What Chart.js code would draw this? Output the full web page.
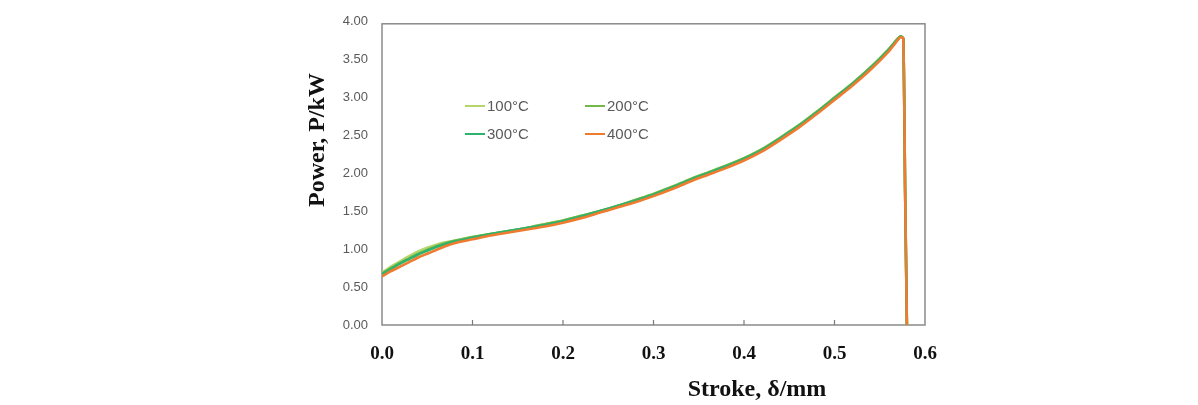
<!DOCTYPE html>
<html>
<head>
<meta charset="utf-8">
<script src="https://cdn.jsdelivr.net/npm/chart.js@4.4.1/dist/chart.umd.min.js"></script>
<style>
  html, body { margin: 0; padding: 0; background: #ffffff; }
  #wrap { width: 1198px; height: 405px; position: relative; }
</style>
</head>
<body>
<div id="wrap"><canvas id="c" width="1198" height="405"></canvas></div>
<script>
// ---- Data ----
const strokeMm = [0, 0.01, 0.02, 0.03, 0.04, 0.05, 0.06, 0.07, 0.08, 0.10, 0.12, 0.14, 0.16, 0.18, 0.20, 0.22, 0.24, 0.26, 0.28, 0.30, 0.32, 0.34, 0.36, 0.38, 0.40, 0.42, 0.44, 0.46, 0.48, 0.50, 0.52, 0.54, 0.56, 0.57, 0.573, 0.576, 0.578, 0.580];
const power100 = [0.69, 0.77, 0.84, 0.91, 0.97, 1.02, 1.06, 1.09, 1.11, 1.16, 1.20, 1.24, 1.28, 1.33, 1.38, 1.44, 1.50, 1.57, 1.65, 1.73, 1.82, 1.92, 2.01, 2.10, 2.20, 2.32, 2.47, 2.63, 2.81, 3.00, 3.19, 3.40, 3.64, 3.78, 3.81, 3.78, 1.80, 0.00];
const power200 = [0.68, 0.75, 0.82, 0.88, 0.94, 0.99, 1.04, 1.08, 1.11, 1.16, 1.20, 1.24, 1.28, 1.33, 1.38, 1.44, 1.50, 1.57, 1.65, 1.73, 1.82, 1.92, 2.01, 2.10, 2.20, 2.32, 2.47, 2.63, 2.81, 3.00, 3.19, 3.40, 3.64, 3.78, 3.81, 3.78, 1.80, 0.00];
const power300 = [0.67, 0.74, 0.81, 0.87, 0.93, 0.98, 1.03, 1.07, 1.10, 1.15, 1.20, 1.24, 1.28, 1.32, 1.37, 1.43, 1.50, 1.57, 1.64, 1.72, 1.81, 1.91, 2.00, 2.09, 2.19, 2.31, 2.46, 2.62, 2.80, 2.99, 3.18, 3.39, 3.63, 3.77, 3.81, 3.78, 1.80, 0.00];
const power400 = [0.64, 0.71, 0.77, 0.83, 0.89, 0.94, 0.99, 1.04, 1.08, 1.13, 1.18, 1.22, 1.26, 1.30, 1.35, 1.41, 1.48, 1.55, 1.62, 1.70, 1.79, 1.89, 1.98, 2.07, 2.17, 2.29, 2.44, 2.60, 2.78, 2.97, 3.16, 3.37, 3.61, 3.76, 3.80, 3.78, 1.80, 0.00];
const seriesLabels = ['100°C', '200°C', '300°C', '400°C'];
const xTickValues = [0, 0.1, 0.2, 0.3, 0.4, 0.5, 0.6];
const yTickValues = [0, 0.5, 1, 1.5, 2, 2.5, 3, 3.5, 4];
const xTitle = 'Stroke, δ/mm';
const yTitle = 'Power, P/kW';

const colors = ['#b6d66c', '#72b94a', '#2eb36c', '#ef7b30'];
const seriesValues = [power100, power200, power300, power400];

function pts(vals) { return strokeMm.map((x, i) => ({ x: x, y: vals[i] })); }

const datasets = seriesValues.map((vals, i) => ({
  label: seriesLabels[i],
  data: pts(vals),
  borderColor: colors[i],
  backgroundColor: colors[i],
  borderWidth: 2.6,
  pointRadius: 0,
  tension: 0.2,
  fill: false,
  order: 4 - i
}));

const PLOT = { left: 382, top: 20, right: 925, bottom: 325 };

const decorPlugin = {
  id: 'decor',
  beforeDatasetsDraw(chart) {
    const ctx = chart.ctx;
    const a = chart.chartArea;
    const xs = chart.scales.x;
    ctx.save();
    ctx.strokeStyle = '#8a8a8a';
    ctx.lineWidth = 1.5;
    ctx.strokeRect(a.left, a.top + 2, a.right - a.left, a.bottom - a.top - 2);
    // inward tick marks on x axis
    ctx.strokeStyle = '#7a7a7a';
    ctx.lineWidth = 1.2;
    xTickValues.forEach(v => {
      if (v === 0 || v === 0.6) return;
      const px = xs.getPixelForValue(v);
      ctx.beginPath();
      ctx.moveTo(px, a.bottom);
      ctx.lineTo(px, a.bottom - 5);
      ctx.stroke();
    });
    ctx.restore();
  },
  afterDraw(chart) {
    const ctx = chart.ctx;
    ctx.save();
    // axis titles
    ctx.fillStyle = '#111111';
    ctx.font = 'bold 24px "Liberation Serif", "Times New Roman", serif';
    ctx.textAlign = 'center';
    ctx.textBaseline = 'middle';
    ctx.fillText(xTitle, 757, 390);
    ctx.translate(318, 140);
    ctx.rotate(-Math.PI / 2);
    ctx.fillText(yTitle, 0, 0);
    ctx.restore();

    // legend inside plot
    ctx.save();
    ctx.font = '15px "Liberation Sans", Arial, sans-serif';
    ctx.textBaseline = 'middle';
    ctx.textAlign = 'left';
    const pos = [[465, 106], [585, 106], [465, 134], [585, 134]];
    chart.data.datasets.forEach((ds, i) => {
      const [x, y] = pos[i];
      ctx.strokeStyle = ds.borderColor;
      ctx.lineWidth = 2;
      ctx.beginPath();
      ctx.moveTo(x, y);
      ctx.lineTo(x + 20, y);
      ctx.stroke();
      ctx.fillStyle = '#5a5a5a';
      ctx.fillText(ds.label, x + 22, y + 1);
    });
    ctx.restore();
  }
};

new Chart(document.getElementById('c'), {
  type: 'line',
  data: { datasets: datasets },
  options: {
    responsive: false,
    animation: false,
    layout: { padding: { left: 0, top: PLOT.top, right: 1198 - PLOT.right, bottom: 0 } },
    plugins: { legend: { display: false }, tooltip: { enabled: false } },
    scales: {
      x: {
        type: 'linear',
        min: 0, max: 0.6,
        afterFit(s) { s.height = 405 - PLOT.bottom; },
        afterBuildTicks(s) { s.ticks = xTickValues.map(v => ({ value: v })); },
        grid: { display: false, drawTicks: false },
        border: { display: false },
        ticks: {
          padding: 18,
          color: '#111111',
          font: { family: '"Liberation Serif", "Times New Roman", serif', size: 19, weight: 'bold' },
          callback: v => v.toFixed(1)
        }
      },
      y: {
        type: 'linear',
        min: 0, max: 4,
        afterFit(s) { s.width = PLOT.left; },
        afterBuildTicks(s) { s.ticks = yTickValues.map(v => ({ value: v })); },
        grid: { display: false, drawTicks: false },
        border: { display: false },
        ticks: {
          padding: 14,
          color: '#5a5a5a',
          font: { family: '"Liberation Sans", Arial, sans-serif', size: 13 },
          callback: v => v.toFixed(2)
        }
      }
    }
  },
  plugins: [decorPlugin]
});
</script>
</body>
</html>
